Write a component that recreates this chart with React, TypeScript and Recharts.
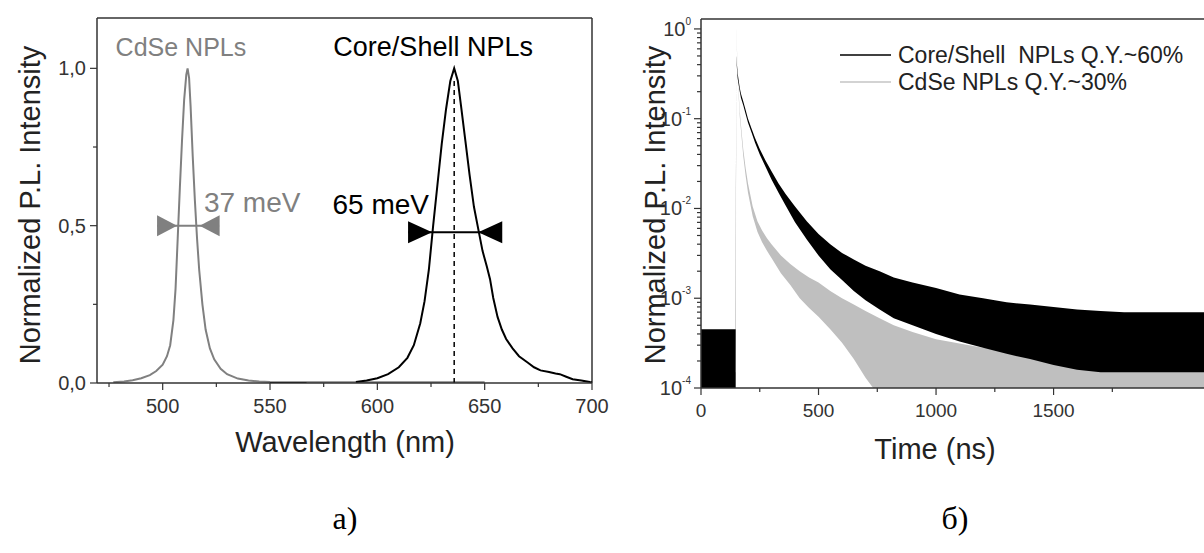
import React from 'react';
import { LineChart, ComposedChart, Line, Area, XAxis, YAxis, ReferenceLine, ReferenceDot } from 'recharts';

const FONT = 'Arial, "Liberation Sans", Helvetica, sans-serif';
const SERIF = '"Liberation Serif", "Times New Roman", serif';

// ---------- Chart a) : PL spectra ----------
const cdseWl = [477, 482, 486, 490, 494, 497, 500, 502, 503.5, 505, 506, 507, 508, 509, 510, 511, 511.6, 512.3, 513, 514, 515, 516, 517, 518.5, 520, 522, 524, 527, 530, 535, 540, 545, 550, 600, 650];
const cdseInt = [0.002, 0.005, 0.009, 0.015, 0.025, 0.038, 0.058, 0.085, 0.12, 0.2, 0.3, 0.46, 0.62, 0.77, 0.9, 0.98, 1.0, 0.97, 0.88, 0.72, 0.58, 0.46, 0.36, 0.25, 0.17, 0.11, 0.075, 0.045, 0.028, 0.014, 0.008, 0.005, 0.003, 0.002, 0.002];

const csWl = [550, 567, 568, 590, 595, 600, 605, 610, 614, 617, 620, 622, 624, 626, 628, 630, 632, 634, 635.8, 637.5, 639, 641, 643, 645, 647, 649, 651, 652.5, 654, 656, 658, 660, 663, 666, 670, 673, 676, 680, 683, 685, 688, 691, 695, 699, 700];
const csInt = [0, 0, null, 0.003, 0.008, 0.015, 0.028, 0.05, 0.08, 0.12, 0.19, 0.26, 0.36, 0.5, 0.63, 0.76, 0.87, 0.96, 1.0, 0.96, 0.88, 0.77, 0.66, 0.56, 0.49, 0.42, 0.37, 0.33, 0.27, 0.21, 0.17, 0.14, 0.11, 0.085, 0.065, 0.05, 0.04, 0.035, 0.03, 0.028, 0.02, 0.012, 0.008, 0.003, 0.002];

const wlTicks = [475, 500, 525, 550, 575, 600, 625, 650, 675, 700];
const wlMajor = [500, 550, 600, 650, 700];
const plTicks = [0, 0.25, 0.5, 0.75, 1.0];
const plTickLabels: Record<string, string> = { '0': '0,0', '0.5': '0,5', '1': '1,0' };

const csPeak = 635.8;
const fwhmCdse = { from: 497.4, to: 526.3, tipL: 506.7, tipR: 517.2, y: 0.5 };
const fwhmCs = { from: 614.4, to: 657.8, tipL: 625.5, tipR: 647.0, y: 0.479 };

const annotationsA = [
  { x: 508.5, y: 1.067, text: 'CdSe NPLs', color: '#808080', anchor: 'middle', size: 25 },
  { x: 626, y: 1.067, text: 'Core/Shell NPLs', color: '#000000', anchor: 'middle', size: 27 },
  { x: 519.2, y: 0.575, text: '37 meV', color: '#808080', anchor: 'start', size: 28 },
  { x: 579.1, y: 0.568, text: '65 meV', color: '#000000', anchor: 'start', size: 28 },
];

// ---------- Chart б) : PL decay ----------
const grayT = [0, 146, 148, 150, 153, 156, 160, 165, 172, 180, 190, 200, 220, 240, 260, 280, 300, 340, 380, 420, 460, 500, 550, 600, 650, 700, 760, 820, 900, 1000, 1200, 1500, 1800, 2140];
const grayHi = [1.5e-4, 1.5e-4, 1.5e-4, 1.0, 0.6, 0.35, 0.2, 0.12, 0.075, 0.045, 0.028, 0.019, 0.0105, 0.0072, 0.0057, 0.0047, 0.004, 0.003, 0.0024, 0.002, 0.0017, 0.0015, 0.0012, 0.001, 0.00085, 0.00072, 0.0006, 0.0005, 0.00042, 0.00035, 0.00028, 0.00024, 0.00022, 0.0002];
const grayLo = [5e-5, 5e-5, 5e-5, 0.95, 0.55, 0.32, 0.18, 0.105, 0.065, 0.038, 0.023, 0.015, 0.0082, 0.0055, 0.0042, 0.0034, 0.0028, 0.0019, 0.0014, 0.001, 0.00078, 0.00062, 0.00045, 0.00032, 0.00021, 0.00013, 8e-5, 5e-5, 5e-5, 5e-5, 5e-5, 5e-5, 5e-5, 5e-5];

const blackT = [0, 145, 147, 150, 153, 156, 160, 165, 170, 180, 190, 200, 215, 230, 250, 275, 300, 330, 360, 400, 450, 500, 550, 600, 650, 700, 760, 820, 900, 1000, 1100, 1200, 1300, 1400, 1500, 1600, 1700, 1800, 1900, 2000, 2140];
const blackHi = [4.5e-4, 4.5e-4, 4.5e-4, 0.5, 0.4, 0.32, 0.27, 0.22, 0.19, 0.155, 0.125, 0.1, 0.078, 0.061, 0.046, 0.034, 0.026, 0.019, 0.0145, 0.0105, 0.0072, 0.0052, 0.004, 0.0032, 0.0027, 0.0023, 0.002, 0.0017, 0.0015, 0.0013, 0.0011, 0.001, 0.0009, 0.00085, 0.0008, 0.00075, 0.00072, 0.0007, 0.0007, 0.0007, 0.0007];
const blackLo = [5e-5, 5e-5, 5e-5, 0.48, 0.36, 0.28, 0.24, 0.2, 0.17, 0.14, 0.112, 0.09, 0.07, 0.054, 0.04, 0.029, 0.021, 0.015, 0.0108, 0.007, 0.0045, 0.003, 0.0021, 0.0016, 0.0012, 0.00095, 0.00075, 0.0006, 0.0005, 0.0004, 0.00033, 0.00028, 0.00024, 0.00021, 0.00018, 0.00016, 0.00015, 0.00015, 0.00015, 0.00015, 0.00015];

const timeTicks = [0, 250, 500, 750, 1000, 1250, 1500, 1750];
const timeMajor = [0, 500, 1000, 1500];
const logTicks = [
  1e-4, 2e-4, 3e-4, 4e-4, 5e-4, 6e-4, 7e-4, 8e-4, 9e-4,
  1e-3, 2e-3, 3e-3, 4e-3, 5e-3, 6e-3, 7e-3, 8e-3, 9e-3,
  1e-2, 2e-2, 3e-2, 4e-2, 5e-2, 6e-2, 7e-2, 8e-2, 9e-2,
  1e-1, 2e-1, 3e-1, 4e-1, 5e-1, 6e-1, 7e-1, 8e-1, 9e-1, 1,
];
const logMajor: Record<string, string> = { '0.0001': '-4', '0.001': '-3', '0.01': '-2', '0.1': '-1', '1': '0' };

const legendNames = ['Core/Shell  NPLs Q.Y.~60%', 'CdSe NPLs Q.Y.~30%'];
const legendColors = ['#000000', '#c4c4c4'];

const cdseData = cdseWl.map((x, i) => ({ x, y: cdseInt[i] }));
const csData = csWl.map((x, i) => ({ x, y: csInt[i] }));
const grayData = grayT.map((t, i) => ({ t, r: [grayLo[i], grayHi[i]] }));
const blackData = blackT.map((t, i) => ({ t, r: [blackLo[i], blackHi[i]] }));

const AX = '#333333';

const WlTick = (props: any) => {
  const { x, y, payload } = props;
  const major = wlMajor.includes(payload.value);
  return (
    <g>
      <line x1={x} y1={y} x2={x} y2={y + (major ? 7 : 4)} stroke={AX} strokeWidth={1.2} />
      {major && (
        <text x={x} y={y + 23} textAnchor="middle" dominantBaseline="central" fontSize={20} fill="#333" fontFamily={FONT}>
          {payload.value}
        </text>
      )}
    </g>
  );
};

const PlTick = (props: any) => {
  const { x, y, payload } = props;
  const lab = plTickLabels[String(payload.value)];
  return (
    <g>
      <line x1={x - (lab ? 7 : 4)} y1={y} x2={x} y2={y} stroke={AX} strokeWidth={1.2} />
      {lab && (
        <text x={x - 11} y={y} textAnchor="end" dominantBaseline="central" fontSize={20} fill="#333" fontFamily={FONT}>
          {lab}
        </text>
      )}
    </g>
  );
};

const TimeTick = (props: any) => {
  const { x, y, payload } = props;
  const major = timeMajor.includes(payload.value);
  return (
    <g>
      <line x1={x} y1={y} x2={x} y2={y + (major ? 7 : 4)} stroke={AX} strokeWidth={1.2} />
      {major && (
        <text x={x} y={y + 22} textAnchor="middle" dominantBaseline="central" fontSize={19} fill="#333" fontFamily={FONT}>
          {payload.value}
        </text>
      )}
    </g>
  );
};

const LogTick = (props: any) => {
  const { x, y, payload } = props;
  const exp = logMajor[String(payload.value)];
  return (
    <g>
      <line x1={x - (exp ? 7 : 4)} y1={y} x2={x} y2={y} stroke={AX} strokeWidth={1.2} />
      {exp && (
        <text x={x - 10} y={y + 7} textAnchor="end" fontSize={20} fill="#333" fontFamily={FONT}>
          <tspan>10</tspan>
          <tspan dy={-11} fontSize={10}>{exp}</tspan>
        </text>
      )}
    </g>
  );
};

const triangle = (dir: 'right' | 'left', fill: string, w: number, h: number) => (p: any) => {
  const { cx, cy } = p;
  const bx = dir === 'right' ? cx - w : cx + w;
  return <polygon points={`${bx},${cy - h / 2} ${cx},${cy} ${bx},${cy + h / 2}`} fill={fill} />;
};

const textShape = (text: string, color: string, anchor: string, size: number) => (p: any) => (
  <text x={p.cx} y={p.cy} textAnchor={anchor} dominantBaseline="central" fontSize={size} fill={color} fontFamily={FONT}>
    {text}
  </text>
);

const ChartA = () => (
  <LineChart width={620} height={470} margin={{ top: 18, right: 28, bottom: 27, left: 0 }}>
    <XAxis dataKey="x" type="number" domain={[469.4, 700]} ticks={wlTicks} interval={0} tickSize={0} tickMargin={0} tickLine={false}
      tick={<WlTick />} axisLine={{ stroke: AX, strokeWidth: 1.5 }} height={60} allowDataOverflow />
    <YAxis type="number" domain={[0, 1.16]} ticks={plTicks} interval={0} tickSize={0} tickMargin={0} tickLine={false}
      tick={<PlTick />} axisLine={{ stroke: AX, strokeWidth: 1.5 }} width={97} allowDataOverflow />
    <ReferenceLine y={1.16} stroke={AX} strokeWidth={1.5} />
    <ReferenceLine x={700} stroke={AX} strokeWidth={1.5} />
    <Line data={cdseData} dataKey="y" type="linear" stroke="#808080" strokeWidth={2} dot={false} isAnimationActive={false} />
    <Line data={csData} dataKey="y" type="linear" stroke="#000000" strokeWidth={2} dot={false} isAnimationActive={false} connectNulls={false} />
    <ReferenceLine segment={[{ x: csPeak, y: 0 }, { x: csPeak, y: 0.97 }]} stroke="#000" strokeWidth={1.5} strokeDasharray="5 4" />
    <ReferenceLine segment={[{ x: fwhmCdse.from, y: fwhmCdse.y }, { x: fwhmCdse.to, y: fwhmCdse.y }]} stroke="#808080" strokeWidth={2} />
    <ReferenceDot x={fwhmCdse.tipL} y={fwhmCdse.y} shape={triangle('right', '#808080', 20, 21)} />
    <ReferenceDot x={fwhmCdse.tipR} y={fwhmCdse.y} shape={triangle('left', '#808080', 20, 21)} />
    <ReferenceLine segment={[{ x: fwhmCs.from, y: fwhmCs.y }, { x: fwhmCs.to, y: fwhmCs.y }]} stroke="#000" strokeWidth={2} />
    <ReferenceDot x={fwhmCs.tipL} y={fwhmCs.y} shape={triangle('right', '#000', 24, 22)} />
    <ReferenceDot x={fwhmCs.tipR} y={fwhmCs.y} shape={triangle('left', '#000', 24, 22)} />
    {annotationsA.map((a) => (
      <ReferenceDot key={a.text} x={a.x} y={a.y} shape={textShape(a.text, a.color, a.anchor, a.size)} />
    ))}
  </LineChart>
);

const ChartB = () => (
  <ComposedChart width={604} height={470} margin={{ top: 19, right: 0, bottom: 22, left: 0 }}>
    <XAxis dataKey="t" type="number" domain={[0, 2140]} ticks={timeTicks} interval={0} tickSize={0} tickMargin={0} tickLine={false}
      tick={<TimeTick />} axisLine={{ stroke: AX, strokeWidth: 1.5 }} height={60} allowDataOverflow />
    <YAxis type="number" scale="log" domain={[1e-4, 1.29]} ticks={logTicks} interval={0} tickSize={0} tickMargin={0} tickLine={false}
      tick={<LogTick />} axisLine={{ stroke: AX, strokeWidth: 1.5 }} width={101} allowDataOverflow />
    <Area data={grayData} dataKey="r" type="linear" stroke="none" fill="#bfbfbf" fillOpacity={1} isAnimationActive={false} />
    <Area data={blackData} dataKey="r" type="linear" stroke="none" fill="#000000" fillOpacity={1} isAnimationActive={false} />
    <ReferenceLine y={1.29} stroke={AX} strokeWidth={1.5} />
  </ComposedChart>
);

export default function App() {
  return (
    <div style={{ position: 'absolute', left: 0, top: 0, width: 1204, height: 553, overflow: 'hidden', background: '#fff' }}>
      <div style={{ position: 'absolute', left: 0, top: 0 }}><ChartA /></div>
      <div style={{ position: 'absolute', left: 600, top: 0 }}><ChartB /></div>
      <svg width={1204} height={553} style={{ position: 'absolute', left: 0, top: 0, pointerEvents: 'none' }}>
        <text x={30} y={205} transform="rotate(-90 30 205)" textAnchor="middle" dominantBaseline="central" fontSize={29} fill="#222" fontFamily={FONT}>Normalized P.L. Intensity</text>
        <text x={345} y={442} textAnchor="middle" dominantBaseline="central" fontSize={29} fill="#222" fontFamily={FONT}>Wavelength (nm)</text>
        <text x={655} y={205} transform="rotate(-90 655 205)" textAnchor="middle" dominantBaseline="central" fontSize={29} fill="#222" fontFamily={FONT}>Normalized P.L. Intensity</text>
        <text x={935} y={449} textAnchor="middle" dominantBaseline="central" fontSize={29} fill="#222" fontFamily={FONT}>Time (ns)</text>
        {legendNames.map((n, i) => (
          <g key={n}>
            <line x1={840} x2={891} y1={55 + i * 27} y2={55 + i * 27} stroke={legendColors[i]} strokeWidth={1.6} />
            <text x={898} y={55 + i * 27} dominantBaseline="central" fontSize={23} fill="#222" fontFamily={FONT} style={{ whiteSpace: 'pre' }}>{n}</text>
          </g>
        ))}
        <text x={345} y={518} textAnchor="middle" dominantBaseline="central" fontSize={32} fill="#000" fontFamily={SERIF}>a)</text>
        <text x={955} y={518} textAnchor="middle" dominantBaseline="central" fontSize={32} fill="#000" fontFamily={SERIF}>б)</text>
      </svg>
    </div>
  );
}
